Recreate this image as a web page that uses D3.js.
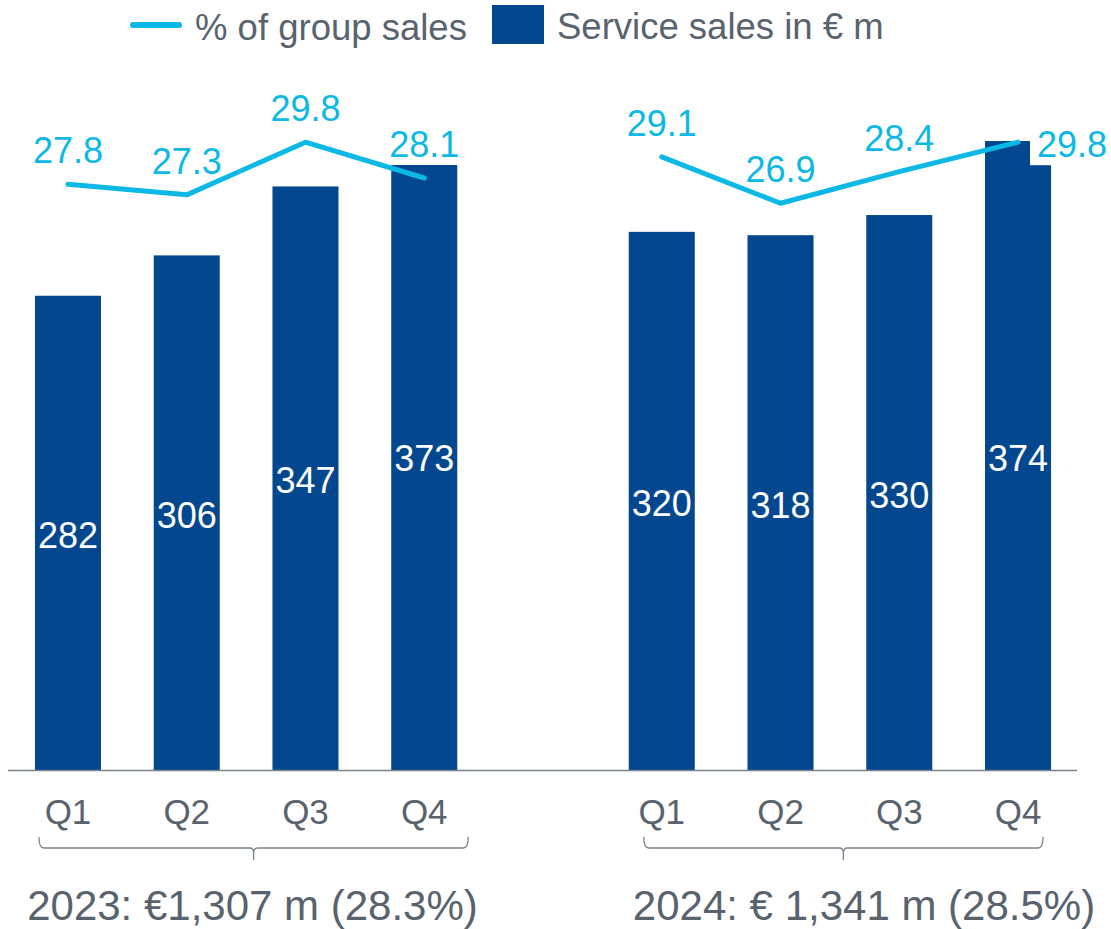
<!DOCTYPE html>
<html>
<head>
<meta charset="utf-8">
<script src="https://cdn.jsdelivr.net/npm/d3@7"></script>
<style>
  body { margin: 0; background: #fff; }
  svg text { font-family: "Liberation Sans", Arial, sans-serif; }
</style>
</head>
<body>
<div id="chart"></div>
<script>
// values
const quarters = ["Q1", "Q2", "Q3", "Q4"];
const years = ["2023", "2024"];
const sales2023 = [282, 306, 347, 373];
const sales2024 = [320, 318, 330, 374];
const share2023 = [27.8, 27.3, 29.8, 28.1];
const share2024 = [29.1, 26.9, 28.4, 29.8];
const yearTotals = ["2023: €1,307 m (28.3%)", "2024: € 1,341 m (28.5%)"];
const legendLabels = ["% of group sales", "Service sales in € m"];

// Setup
const width = 1111;
const height = 929;
const baseY = 770;
const barColor = "#03488e";
const lineColor = "#0cb8e6";
const textColor = "#59636e";

const svg = d3.select("#chart")
              .append("svg")
              .attr("width", width)
              .attr("height", height);

// 9 slots: 4 quarters, an empty slot, 4 quarters
const slots = [
  ...quarters.map(q => years[0] + q),
  "gap",
  ...quarters.map(q => years[1] + q)
];

const x = d3.scaleBand()
            .domain(slots)
            .range([8.6, 1077.4])
            .paddingInner(0.444)
            .paddingOuter(0.222);

const ySales = d3.scaleLinear().domain([0, 400]).range([baseY, 97.3]);
const yShare = d3.scaleLinear().domain([0, 31.93]).range([baseY, 97.3]);

const groups = years.map((yr, i) => ({
  year: yr,
  total: yearTotals[i],
  rows: quarters.map((q, j) => ({
    key: yr + q,
    quarter: q,
    sales: i === 0 ? sales2023[j] : sales2024[j],
    share: i === 0 ? share2023[j] : share2024[j]
  }))
}));
const rows = groups.flatMap(g => g.rows);
const cx = d => x(d.key) + x.bandwidth() / 2;

// bars
svg.append("g")
   .selectAll("rect")
   .data(rows)
   .enter().append("rect")
     .attr("x", d => x(d.key))
     .attr("y", d => ySales(d.sales))
     .attr("width", x.bandwidth())
     .attr("height", d => baseY - ySales(d.sales))
     .style("fill", barColor);

svg.append("g")
   .selectAll("text")
   .data(rows)
   .enter().append("text")
     .attr("x", cx)
     .attr("y", d => (ySales(d.sales) + baseY) / 2 + 15)
     .attr("text-anchor", "middle")
     .style("font-size", "36px")
     .style("fill", "#fff")
     .text(d => d.sales);

// baseline
svg.append("line")
   .attr("x1", 8).attr("x2", 1077)
   .attr("y1", baseY + 0.5).attr("y2", baseY + 0.5)
   .style("stroke", "#7a828c")
   .style("stroke-width", 1.6);

// layers: label boxes, then the line, then the label text
const boxLayer = svg.append("g");
const lineLayer = svg.append("g");
const labelLayer = svg.append("g");

const last = rows[rows.length - 1];

const shareText = labelLayer.selectAll("text")
   .data(rows)
   .enter().append("text")
     .attr("x", d => d === last ? cx(d) + 19 : cx(d))
     .attr("y", d => d === last ? yShare(d.share) + 15 : yShare(d.share) - 21)
     .attr("text-anchor", d => d === last ? "start" : "middle")
     .style("font-size", "36px")
     .style("fill", lineColor)
     .text(d => d.share.toFixed(1));

// white boxes behind the data labels, as on the slide
shareText.each(function() {
  const b = this.getBBox();
  boxLayer.append("rect")
    .attr("x", b.x - 7)
    .attr("y", b.y - 3)
    .attr("width", b.width + 14)
    .attr("height", b.height + 3)
    .style("fill", "#fff");
});

// share line, one per year
const line = d3.line()
               .x(cx)
               .y(d => yShare(d.share));

lineLayer.selectAll("path")
   .data(groups)
   .enter().append("path")
     .attr("d", g => line(g.rows))
     .style("fill", "none")
     .style("stroke", lineColor)
     .style("stroke-width", 5)
     .style("stroke-linecap", "round")
     .style("stroke-linejoin", "round");

// quarter labels
svg.append("g")
   .selectAll("text")
   .data(rows)
   .enter().append("text")
     .attr("x", cx)
     .attr("y", 824)
     .attr("text-anchor", "middle")
     .style("font-size", "35px")
     .style("fill", textColor)
     .text(d => d.quarter);

// braces under each year
const braceEnds = [[4, 11], [15, -8]];
const brace = (l, r) => {
  const c = (l + r) / 2;
  return `M${l},837 Q${l},848 ${l + 5},848 L${c - 4},848 Q${c},848 ${c},853 L${c},860`
       + ` M${c},853 Q${c},848 ${c + 4},848 L${r - 5},848 Q${r},848 ${r},837`;
};

groups.forEach((g, i) => {
  const l = x(g.rows[0].key) + braceEnds[i][0];
  const r = x(g.rows[3].key) + x.bandwidth() + braceEnds[i][1];
  svg.append("path")
     .attr("d", brace(l, r))
     .style("fill", "none")
     .style("stroke", "#7a828c")
     .style("stroke-width", 1.3);
});

const totalX = [252.5, 864];
svg.append("g")
   .selectAll("text")
   .data(groups)
   .enter().append("text")
     .attr("x", (d, i) => totalX[i])
     .attr("y", 920)
     .attr("text-anchor", "middle")
     .style("font-size", "42px")
     .style("fill", textColor)
     .text(d => d.total);

// legend
const legend = svg.append("g");
legend.append("line")
      .attr("x1", 133).attr("x2", 179)
      .attr("y1", 25).attr("y2", 25)
      .style("stroke", lineColor)
      .style("stroke-width", 6)
      .style("stroke-linecap", "round");
legend.append("text")
      .attr("x", 195).attr("y", 40)
      .style("font-size", "36.5px")
      .style("fill", textColor)
      .text(legendLabels[0]);
legend.append("rect")
      .attr("x", 492).attr("y", 5)
      .attr("width", 52).attr("height", 39)
      .style("fill", barColor);
legend.append("text")
      .attr("x", 557).attr("y", 39)
      .style("font-size", "36.5px")
      .style("fill", textColor)
      .text(legendLabels[1]);
</script>
</body>
</html>
